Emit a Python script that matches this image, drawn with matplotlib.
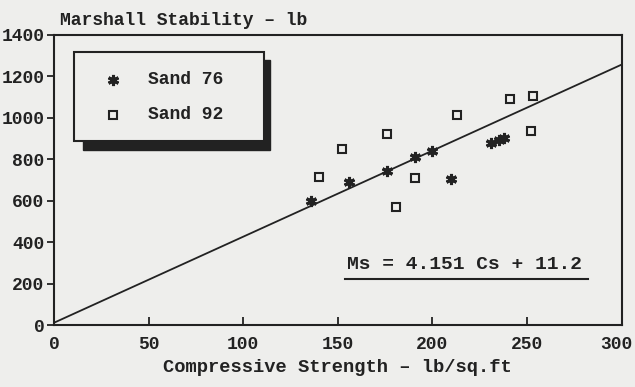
import matplotlib.pyplot as plt
from matplotlib.patches import Rectangle
from matplotlib.transforms import ScaledTranslation

# Sand 76 points (compressive strength, marshall stability)
sand76_cs = [136, 156, 176, 191, 200, 210, 231, 235, 238]
sand76_ms = [600, 689, 744, 810, 842, 705, 880, 892, 900]

# Sand 92 points
sand92_cs = [140, 152, 176, 181, 191, 213, 241, 252, 253]
sand92_ms = [716, 850, 922, 568, 708, 1011, 1092, 938, 1103]

# regression Ms = 4.151 Cs + 11.2
slope = 4.151
intercept = 11.2
fit_x = [0, 300]

x_ticks = [0, 50, 100, 150, 200, 250, 300]
y_ticks = [0, 200, 400, 600, 800, 1000, 1200, 1400]

ink = '#222222'
paper = '#eeeeec'
plt.rcParams['font.family'] = 'Liberation Mono'
plt.rcParams['font.weight'] = 'bold'
plt.rcParams['axes.labelweight'] = 'bold'
fs = 13

fig = plt.figure(figsize=(6.35, 3.87), dpi=100, facecolor=paper)
ax = fig.add_axes([0.085, 0.160, 0.894, 0.750], facecolor=paper)

ax.plot(fit_x, [slope * x + intercept for x in fit_x], color=ink, lw=1.3)
ax.plot(sand76_cs, sand76_ms, ls='none', marker=(6, 2, 0), ms=8, mew=2.2,
        color=ink)
ax.plot(sand92_cs, sand92_ms, ls='none', marker='s', ms=6, mew=1.5,
        mfc='none', mec=ink)

ax.set_xlim(0, 300)
ax.set_ylim(0, 1400)
ax.set_xticks(x_ticks)
ax.set_yticks(y_ticks)
ax.tick_params(axis='x', direction='in', length=6, width=1.3, pad=8,
               labelsize=fs, colors=ink)
ax.tick_params(axis='y', direction='out', length=5, width=1.3, pad=2,
               labelsize=fs, colors=ink)
for s in ax.spines.values():
    s.set_linewidth(1.5)
    s.set_color(ink)

# nudge the last x label inside the figure
last = ax.get_xticklabels()[-1]
last.set_transform(last.get_transform() + ScaledTranslation(-5 / 100, 0, fig.dpi_scale_trans))

ax.set_xlabel('Compressive Strength \u2013 lb/sq.ft', fontsize=13.5, color=ink,
              labelpad=4)
fig.text(0.095, 0.948, 'Marshall Stability \u2013 lb', fontsize=fs, color=ink,
         ha='left', va='center')

# legend box with a solid shadow
ax.add_patch(Rectangle((0.051, 0.603), 0.329, 0.311, transform=ax.transAxes,
                       facecolor=ink, edgecolor=ink, zorder=5))
ax.add_patch(Rectangle((0.035, 0.634), 0.335, 0.307, transform=ax.transAxes,
                       facecolor=paper, edgecolor=ink, lw=1.5, zorder=6))
ax.plot([0.104], [0.845], transform=ax.transAxes, marker=(6, 2, 0), ms=8,
        mew=2.2, color=ink, zorder=7)
ax.plot([0.104], [0.724], transform=ax.transAxes, marker='s', ms=6, mew=1.5,
        mfc='none', mec=ink, zorder=7)
ax.text(0.165, 0.845, 'Sand 76', transform=ax.transAxes, fontsize=fs,
        color=ink, va='center', zorder=7)
ax.text(0.165, 0.724, 'Sand 92', transform=ax.transAxes, fontsize=fs,
        color=ink, va='center', zorder=7)

# equation with underline
ax.text(155, 292, 'Ms = 4.151 Cs + 11.2', fontsize=14, color=ink,
        va='center', ha='left')
ax.plot([154, 282], [222, 222], color=ink, lw=1.5)

fig.savefig('out.png', dpi=100, facecolor=paper)
